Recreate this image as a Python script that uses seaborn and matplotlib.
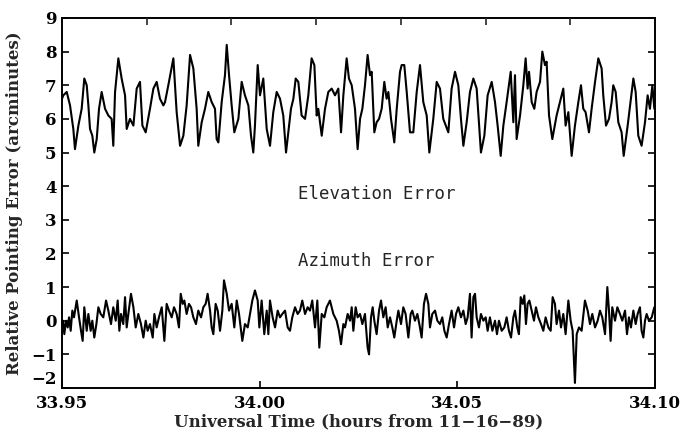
import numpy as np
import pandas as pd
import matplotlib
matplotlib.use("Agg")
import matplotlib.pyplot as plt
import seaborn as sns

# time axis starts at 33.95 h; sample times are given in seconds after that
t0_hours = 33.95

elev_sec = [0.0, 1.2, 4.3, 7.3, 10.3, 11.8, 14.9, 17.9, 20.3, 22.5, 24.0,
            25.5, 27.6, 29.4, 31.6, 33.7, 36.1, 39.2, 42.2, 45.2, 46.7,
            48.3, 51.3, 54.3, 57.4, 58.9, 61.9, 65.0, 68.0, 71.0, 73.2,
            76.2, 80.1, 83.2, 86.2, 89.2, 92.3, 93.8, 96.8, 101.4, 104.4,
            107.5, 110.5, 113.5, 116.6, 119.6, 122.6, 124.1, 127.2, 130.2, 133.2,
            136.3, 139.3,
            140.8, 142.4, 145.4, 148.4, 150.0, 152.1, 154.5, 156.9, 160.6, 163.6,
            166.6, 169.7, 172.1, 174.2, 175.7, 178.2, 180.3, 183.3, 186.4, 189.4,
            192.4, 195.5, 198.5, 201.5, 204.0, 206.1, 208.5, 210.7, 212.8, 215.2,
            218.2, 221.3, 224.3, 227.3, 229.8, 231.9, 233.4, 236.5, 239.5, 242.5,
            245.6, 248.6, 251.6, 254.1, 256.2, 259.2, 261.3, 263.8, 266.8, 269.2,
            271.4, 273.5, 275.9,
            278.3, 280.5, 282.0, 284.4, 286.5, 288.7, 291.1, 293.5, 295.6, 297.2,
            299.6, 302.6, 304.8, 307.8, 309.3, 311.7, 313.9, 316.9, 319.9, 323.0,
            326.0, 329.0, 332.1, 334.5, 338.1, 341.2, 344.2, 347.2, 351.8, 354.8,
            357.9, 360.9, 363.3, 365.5, 368.5, 371.5, 374.6, 377.6, 381.5, 384.6,
            387.6, 391.3, 394.3, 396.7, 399.5, 401.9, 404.9, 408.6, 411.0,
            412.5, 414.0, 417.1, 420.1, 422.2, 424.0, 425.3, 427.7, 430.1, 432.2,
            435.3, 437.4, 439.8, 441.3, 443.5, 446.5, 450.4, 453.5, 456.5, 458.6,
            461.1, 464.1, 467.1, 470.2, 472.6, 474.7, 476.8, 479.9, 482.3, 485.4,
            488.4, 491.4, 492.9, 495.4, 498.1, 500.5, 502.0, 504.2, 506.6, 509.6,
            511.5, 515.1, 520.3, 522.4, 524.8, 527.8, 530.9, 533.3, 535.4, 537.6,
            539.4]

elev_err = [6.6, 6.7, 6.8, 6.4, 5.7, 5.1, 5.8, 6.3, 7.2, 7.0, 6.4,
            5.7, 5.5, 5.0, 5.4, 6.3, 6.8, 6.3, 6.1, 6.0, 5.2,
            6.8, 7.8, 7.2, 6.7, 5.7, 6.0, 5.8, 6.9, 7.1, 5.8,
            5.6, 6.3, 6.9, 7.1, 6.6, 6.4, 6.5, 7.0, 7.8, 6.2,
            5.2, 5.5, 6.4, 7.9, 7.5, 6.3, 5.2, 5.9, 6.3, 6.8,
            6.5, 6.3,
            5.4, 5.3, 6.5, 7.3, 8.2, 7.3, 6.4, 5.6, 6.0, 7.1,
            6.7, 6.4, 5.5, 5.0, 5.8, 7.6, 6.7, 7.2, 5.7, 5.2,
            6.2, 6.8, 6.6, 6.1, 5.0, 5.6, 6.3, 6.6, 7.2, 7.1,
            6.1, 6.0, 6.7, 7.8, 7.6, 6.1, 6.3, 5.5, 6.3, 6.8,
            6.9, 6.7, 6.9, 5.6, 6.7, 7.8, 7.2, 7.0, 6.3, 5.1,
            6.0, 6.3, 7.0,
            7.9, 7.3, 7.4, 5.6, 5.9, 6.0, 6.3, 7.1, 6.6, 6.8,
            6.0, 5.3, 6.3, 7.4, 7.6, 7.6, 6.8, 5.6, 5.6, 6.8,
            7.6, 6.5, 6.1, 5.0, 6.0, 7.1, 6.9, 6.0, 5.6, 6.9,
            7.4, 7.0, 6.0, 5.2, 5.9, 6.8, 7.2, 6.9, 5.0, 5.5,
            6.7, 7.1, 6.5, 5.8, 4.9, 5.8, 6.5, 7.4, 5.9,
            7.3, 5.4, 6.1, 7.0, 7.8, 6.9, 7.4, 6.5, 6.3, 6.8,
            7.1, 8.0, 7.6, 7.7, 6.1, 5.4, 6.1, 6.5, 6.9, 5.8,
            6.2, 4.9, 5.8, 6.5, 7.0, 6.3, 6.2, 5.6, 6.3, 7.1,
            7.8, 7.5, 6.7, 5.8, 6.0, 6.5, 7.0, 6.8, 5.9, 5.6,
            4.9, 5.8, 7.2, 6.8, 5.5, 5.2, 5.9, 6.7, 6.3, 7.0,
            6.3]

azim_sec = [0.9, 2.1, 3.6, 5.2, 6.4, 7.9, 9.4, 10.9, 13.4, 15.5,
            17.3, 18.8, 20.3, 22.5, 24.0, 26.1, 27.6, 29.4, 31.3, 33.1,
            35.2, 37.6, 40.1, 42.2, 44.6, 46.7, 48.9, 50.7, 52.2, 53.7,
            55.8, 57.4, 58.9, 60.4, 62.8, 65.0, 67.1, 69.5, 71.9, 74.1,
            76.2, 78.0, 80.1, 82.6, 84.1, 86.2, 88.3, 90.8, 93.2, 95.3,
            97.4, 99.9, 102.0, 104.4, 106.5, 108.1, 109.9, 111.4, 113.5, 115.6,
            117.5, 119.6, 122.0, 124.1, 126.6, 128.7, 130.8, 132.6, 134.8, 136.3,
            137.8,
            139.9, 141.8, 143.9, 146.0, 147.5, 150.0, 152.1, 154.5, 156.9, 159.1,
            161.2, 164.2, 166.6, 169.1, 171.2, 173.3, 175.7, 178.2, 179.7, 181.8,
            184.2, 186.4, 187.9, 189.4, 191.8, 194.0, 196.4, 198.5, 200.6, 203.1,
            205.5, 207.6, 209.7, 212.2, 214.6, 216.7, 218.8, 221.3, 223.7, 225.8,
            227.9, 230.4, 232.5, 234.3, 236.5, 238.9, 241.0, 244.0, 247.1, 250.1,
            252.2, 254.1, 256.2, 257.7, 260.1, 262.3, 263.8, 265.3, 267.4, 269.2,
            271.4, 273.5, 275.9,
            278.3, 279.6, 281.4, 282.9, 284.4, 286.5, 288.7, 290.5, 292.6, 294.7,
            296.6, 298.7, 300.8, 302.6, 304.8, 306.3, 308.7, 310.8, 312.9, 315.4,
            317.5, 319.0, 321.4, 323.6, 325.4, 327.5, 329.6, 331.5, 333.6, 335.1,
            337.2, 339.7, 341.8, 344.2, 346.3, 348.2, 350.3, 352.4, 354.8, 357.0,
            358.8, 360.9, 363.3, 365.5, 367.6, 369.4, 371.5, 373.0, 374.6, 376.1,
            377.6, 379.7, 381.5, 383.7, 385.8, 387.6, 389.7, 391.9, 394.3, 396.1,
            397.9, 400.4, 402.8, 404.9, 407.0, 408.9, 411.0, 412.5,
            414.6, 416.1, 417.7, 419.5, 421.0, 422.5, 424.0, 425.6, 427.7, 429.8,
            431.6, 433.8, 436.2, 438.3, 440.4, 442.9, 445.0, 446.8, 448.9, 450.4,
            452.6, 454.4, 456.5, 458.6, 461.1, 463.2, 465.0, 467.1, 468.7, 470.8,
            473.2, 476.2, 478.7, 480.8, 482.9, 485.4, 487.8, 489.9, 492.0, 494.5,
            496.6, 498.1, 499.6, 501.1, 503.6, 505.7, 508.1, 510.2, 512.7, 514.5,
            516.3, 518.1, 520.3, 522.4, 524.2, 526.3, 527.8, 529.4, 530.9, 532.4,
            534.5, 537.0, 539.4]

azim_err = [0.0, -0.4, 0.0, -0.2, 0.1, -0.3, 0.3, 0.1, 0.6, 0.1,
            -0.3, -0.6, 0.4, -0.3, 0.2, -0.3, 0.0, -0.5, -0.1, 0.4,
            0.2, 0.1, 0.6, 0.3, -0.1, 0.4, 0.0, 0.6, -0.3, 0.2,
            -0.1, 0.7, -0.2, 0.2, 0.8, 0.4, -0.2, 0.2, -0.1, -0.5,
            0.0, -0.3, -0.1, -0.5, 0.2, -0.2, 0.1, 0.4, -0.6, 0.5,
            0.3, 0.1, 0.4, 0.2, -0.2, 0.8, 0.5, 0.6, 0.2, 0.5,
            0.4, 0.1, -0.1, 0.3, 0.1, 0.4, 0.5, 0.8, 0.3, -0.2,
            -0.4,
            0.5, 0.3, -0.3, 0.3, 1.2, 0.8, 0.3, 0.5, -0.2, 0.6,
            0.2, -0.6, -0.1, -0.2, 0.2, 0.6, 0.9, 0.6, -0.2, 0.6,
            -0.4, 0.3, -0.4, 0.6, 0.1, -0.2, 0.3, 0.1, 0.2, 0.3,
            -0.2, -0.3, 0.1, 0.4, 0.2, 0.3, 0.6, 0.2, 0.4, 0.3,
            0.6, -0.2, 0.6, -0.8, 0.2, 0.1, 0.4, 0.6, 0.2, 0.0,
            -0.3, -0.7, -0.1, -0.2, 0.2, 0.0, 0.4, -0.3, 0.4, 0.1,
            0.2, -0.1, 0.2,
            -0.8, -1.0, 0.1, 0.4, 0.0, -0.4, 0.3, 0.6, 0.1, 0.4,
            -0.2, 0.1, -0.2, -0.5, 0.0, 0.3, -0.1, 0.4, 0.2, -0.5,
            0.2, 0.3, 0.0, 0.2, -0.1, -0.5, 0.5, 0.8, 0.5, -0.2,
            0.2, 0.3, 0.0, -0.1, 0.1, -0.3, -0.5, -0.1, 0.3, -0.2,
            0.2, 0.4, 0.1, 0.3, -0.1, 0.1, 0.8, -0.5, 0.7, 0.8,
            0.1, -0.2, 0.2, 0.0, 0.1, -0.3, 0.1, -0.3, 0.0, -0.4,
            0.0, -0.3, -0.2, 0.1, -0.3, -0.5, 0.1, 0.3,
            -0.2, -0.4, 0.7, 0.5, 0.75, -0.1, 0.5, 0.6, 0.3, 0.0,
            0.4, 0.1, -0.1, -0.3, 0.1, -0.2, -0.3, 0.7, 0.5, -0.1,
            0.3, -0.2, 0.2, -0.4, 0.6, 0.0, -0.3, -1.85, -0.4, -0.2,
            -0.3, 0.6, 0.3, -0.1, 0.2, -0.2, 0.0, 0.3, 0.1, -0.4,
            1.0, 0.3, -0.6, 0.4, 0.0, 0.4, 0.2, 0.0, 0.3, -0.4,
            0.1, -0.2, 0.3, -0.1, 0.2, 0.4, -0.3, -0.5, 0.0, 0.2,
            0.0, 0.1, 0.4]

x_ticks = [33.95, 34.00, 34.05, 34.10]
x_labels = ["33.95", "34.00", "34.05", "34.10"]
y_ticks = list(range(-2, 10))

elev = pd.DataFrame({"time": t0_hours + np.array(elev_sec) / 3600.0, "err": elev_err})
azim = pd.DataFrame({"time": t0_hours + np.array(azim_sec) / 3600.0, "err": azim_err})

sns.set_style("ticks")
plt.rcParams["font.family"] = ["DejaVu Serif"]

fig = plt.figure(figsize=(6.86, 4.32), dpi=100)
ax = fig.add_axes([0.0904, 0.1019, 0.8644, 0.8565])

sns.lineplot(data=elev, x="time", y="err", ax=ax, color="black", lw=1.5,
             estimator=None, sort=False)
sns.lineplot(data=azim, x="time", y="err", ax=ax, color="black", lw=1.5,
             estimator=None, sort=False)

ax.set_xlim(33.95, 34.10)
ax.set_ylim(-2, 9)
ax.set_xticks(x_ticks)
ax.set_xticklabels(x_labels, fontsize=12, fontweight="bold")
ax.set_yticks(y_ticks)
ylabels = ax.set_yticklabels([str(v).replace("-", "\u2212") for v in y_ticks],
                             fontsize=12, fontweight="bold")
# lowest label sits a little high, clear of the 33.95 label
ylabels[0].set_va("bottom")
ax.tick_params(axis="both", direction="in", length=5, width=1.2, pad=4,
               right=True, colors="black")
ax.tick_params(axis="x", pad=5)

ax.set_xlabel("Universal Time (hours from 11\u221216\u221289)", fontsize=12,
              fontweight="bold", labelpad=1)
ax.set_ylabel("Relative Pointing Error (arcminutes)", fontsize=12,
              fontweight="bold", labelpad=6)

for s in ax.spines.values():
    s.set_visible(True)
    s.set_linewidth(1.4)
    s.set_color("black")

# top axis: unlabeled ticks at seven equal divisions
top = ax.twiny()
top.set_xlim(0, 7)
top.set_xticks(range(1, 7))
top.tick_params(axis="x", direction="in", length=5, width=1.2, labeltop=False)
for s in top.spines.values():
    s.set_visible(False)

ax.text(34.0097, 3.76, "Elevation Error", fontsize=12.5,
        family="DejaVu Sans Mono", ha="left", va="center")
ax.text(34.0097, 1.77, "Azimuth Error", fontsize=12.5,
        family="DejaVu Sans Mono", ha="left", va="center")

fig.savefig("out.png", dpi=100)
